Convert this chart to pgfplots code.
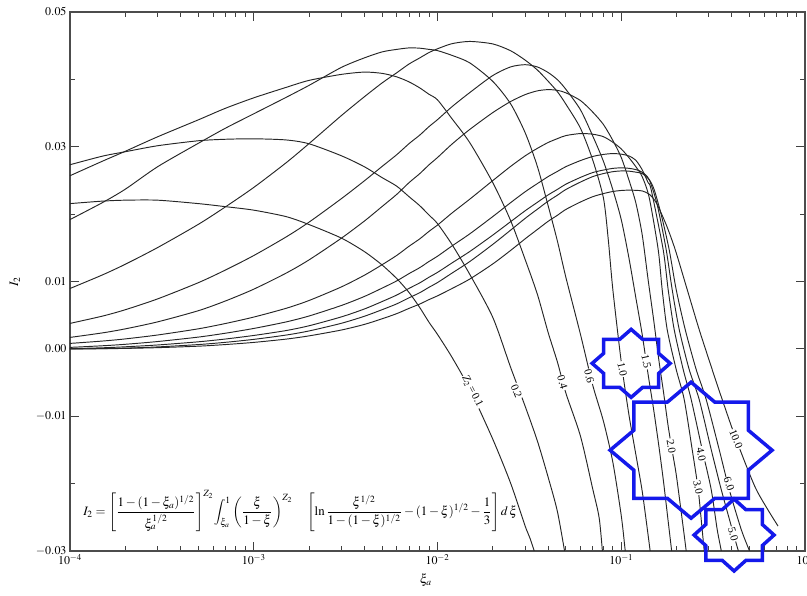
\documentclass[border=0pt]{standalone}
\usepackage{mathptmx}
\usepackage[no-math]{fontspec}
\setmainfont{Liberation Serif}
\usepackage{pgfplots}
\pgfplotsset{compat=1.18}
\definecolor{starblue}{RGB}{20,25,235}
\newcommand{\drawstar}[3]{\draw[starblue, line width=3.5pt, line join=miter, shift={(#1)}, x=#2, y=#3] (0:1) \foreach \a in {0,45,...,270} {-- (\a+22.5:0.7654) -- (\a+45:1)} -- (337.5:0.7654) -- cycle;}
\tikzset{clabel/.style={fill=white, inner sep=1pt, font=\fontsize{11}{12}\selectfont}}
\pgfplotsset{curve/.style={black!85, solid, line width=0.95pt, smooth, tension=0.45, mark=none}}
\begin{document}
\begin{tikzpicture}
\path[use as bounding box] (-70bp,-45bp) rectangle (737bp,551bp);
\begin{axis}[
  at={(0,0)}, anchor=south west,
  scale only axis, width=735bp, height=539bp,
  xmode=log, xmin=1e-4, xmax=1, ymin=-0.03, ymax=0.05,
  ytick={-0.03,-0.01,0,0.01,0.03,0.05},
  yticklabels={$-0.03$,$-0.01$,$0.00$,$0.01$,$0.03$,$0.05$},
  minor ytick={-0.02,0.02,0.04},
  scaled y ticks=false,
  tick label style={font=\fontsize{12}{14}\selectfont},
  major tick length=9bp, minor tick length=5bp,
  tick style={black!75, line width=0.9pt},
  axis line style={black!70, line width=1.1pt},
  ylabel={$I_2$},
  ylabel style={at={(axis description cs:-0.075,0.5)}, anchor=center, font=\fontsize{13}{14}\selectfont},
  xlabel={$\xi_a$},
  xlabel style={at={(axis description cs:0.484,-0.054)}, anchor=center, font=\fontsize{13}{14}\selectfont},
]
% Z2 = 0.1
\addplot[curve] coordinates {(1e-4,0.02156)(1.5e-4,0.02193)(2e-4,0.02207)(3e-4,0.02207)(5e-4,0.02156)(7e-4,0.02111)(1e-3,0.02059)(1.5e-3,0.01963)(2e-3,0.01845)(3e-3,0.01644)(4e-3,0.01444)(5e-3,0.01244)(6e-3,0.01044)(7e-3,0.00837)(8e-3,0.00615)(9e-3,0.00393)(1e-2,0.00215)(1.2e-2,-0.00126)(1.5e-2,-0.00600)(2e-2,-0.01341)(2.5e-2,-0.01993)(3e-2,-0.02630)(3.2e-2,-0.02822)(3.5e-2,-0.0315)};
% Z2 = 0.2
\addplot[curve] coordinates {(1e-4,0.02733)(1.5e-4,0.02860)(2e-4,0.02926)(3e-4,0.03015)(5e-4,0.03089)(7e-4,0.03111)(1e-3,0.03118)(1.5e-3,0.03101)(2e-3,0.03044)(3e-3,0.02866)(4e-3,0.02703)(5e-3,0.02541)(6e-3,0.02415)(7e-3,0.02259)(8e-3,0.02126)(9e-3,0.01985)(1e-2,0.01859)(1.2e-2,0.01548)(1.5e-2,0.01104)(2e-2,0.00467)(2.5e-2,-0.00274)(3e-2,-0.00852)(3.5e-2,-0.01370)(4e-2,-0.01904)(4.5e-2,-0.02422)(5e-2,-0.03119)};
% Z2 = 0.4
\addplot[curve] coordinates {(1e-4,0.02570)(1.5e-4,0.02785)(2e-4,0.02933)(3e-4,0.03148)(5e-4,0.03400)(7e-4,0.03570)(1e-3,0.03726)(1.5e-3,0.03881)(2e-3,0.03985)(3e-3,0.04074)(4e-3,0.04108)(5e-3,0.04089)(6e-3,0.04037)(7e-3,0.03963)(8e-3,0.03874)(9e-3,0.03778)(1e-2,0.03696)(1.2e-2,0.03415)(1.5e-2,0.03059)(2e-2,0.02467)(2.5e-2,0.01904)(3e-2,0.01326)(3.5e-2,0.00807)(4e-2,0.00244)(4.5e-2,-0.00200)(5e-2,-0.00659)(6e-2,-0.01296)(7e-2,-0.02082)(7.6e-2,-0.02526)(8e-2,-0.0319)};
% Z2 = 0.6
\addplot[curve] coordinates {(1e-4,0.01919)(1.5e-4,0.02170)(2e-4,0.02370)(3e-4,0.02704)(5e-4,0.03052)(7e-4,0.03274)(1e-3,0.03489)(1.5e-3,0.03733)(2e-3,0.03911)(3e-3,0.04178)(4e-3,0.04319)(5e-3,0.04408)(6e-3,0.04445)(7e-3,0.04467)(8e-3,0.04463)(9e-3,0.04445)(1e-2,0.04427)(1.2e-2,0.04356)(1.5e-2,0.04244)(2e-2,0.03970)(2.5e-2,0.03637)(3e-2,0.03208)(3.5e-2,0.02704)(4e-2,0.02126)(4.5e-2,0.01593)(5e-2,0.01059)(6e-2,0.00215)(7e-2,-0.00541)(8e-2,-0.01074)(9e-2,-0.01682)(0.1,-0.02474)(0.105,-0.02985)(0.11,-0.0350)};
% Z2 = 1.0
\addplot[curve] coordinates {(1e-4,0.00896)(1.5e-4,0.01097)(2e-4,0.01256)(3e-4,0.01504)(5e-4,0.01849)(7e-4,0.02106)(1e-3,0.02396)(1.5e-3,0.02762)(2e-3,0.03047)(3e-3,0.03463)(4e-3,0.03742)(5e-3,0.03948)(6e-3,0.04098)(7e-3,0.04228)(8e-3,0.04318)(9e-3,0.04399)(1e-2,0.04454)(1.2e-2,0.04530)(1.5e-2,0.04563)(2e-2,0.04526)(2.5e-2,0.04425)(3e-2,0.04286)(3.5e-2,0.04138)(4e-2,0.03973)(4.5e-2,0.03815)(5e-2,0.03631)(6e-2,0.03274)(7e-2,0.02802)(8e-2,0.02239)(8.5e-2,0.01622)(9e-2,0.00881)(0.1,-0.00193)(0.11,-0.00970)(0.12,-0.01563)(0.13,-0.02111)(0.14,-0.02763)(0.1455,-0.03119)};
% Z2 = 1.5
\addplot[curve] coordinates {(1e-4,0.00378)(1.5e-4,0.00486)(2e-4,0.00581)(3e-4,0.00742)(5e-4,0.00983)(7e-4,0.01169)(1e-3,0.01385)(1.5e-3,0.01661)(2e-3,0.01881)(3e-3,0.02230)(4e-3,0.02494)(5e-3,0.02709)(6e-3,0.02882)(7e-3,0.03046)(8e-3,0.03172)(9e-3,0.03300)(1e-2,0.03402)(1.2e-2,0.03595)(1.5e-2,0.03805)(2e-2,0.04057)(2.5e-2,0.04185)(3e-2,0.04218)(3.5e-2,0.04184)(4e-2,0.04102)(4.5e-2,0.03994)(5e-2,0.03851)(6e-2,0.03548)(7e-2,0.03159)(8e-2,0.02783)(9e-2,0.02362)(0.1,0.01919)(0.11,0.01356)(0.12,0.00763)(0.13,0.00215)(0.14,-0.00378)(0.15,-0.00896)(0.16,-0.01430)(0.17,-0.01978)(0.18,-0.02556)(0.1918,-0.03193)};
% Z2 = 2.0
\addplot[curve] coordinates {(1e-4,0.00170)(1.5e-4,0.00237)(2e-4,0.00297)(3e-4,0.00401)(5e-4,0.00567)(7e-4,0.00710)(1e-3,0.00886)(1.5e-3,0.01124)(2e-3,0.01321)(3e-3,0.01643)(4e-3,0.01897)(5e-3,0.02114)(6e-3,0.02293)(7e-3,0.02467)(8e-3,0.02600)(9e-3,0.02733)(1e-2,0.02840)(1.2e-2,0.03040)(1.5e-2,0.03258)(2e-2,0.03507)(2.5e-2,0.03671)(3e-2,0.03774)(3.5e-2,0.03830)(4e-2,0.03848)(4.5e-2,0.03837)(5e-2,0.03800)(6e-2,0.03686)(7e-2,0.03514)(8e-2,0.03330)(9e-2,0.03094)(0.1,0.02841)(0.11,0.02511)(0.12,0.02170)(0.13,0.01696)(0.14,0.01029)(0.15,0.00437)(0.16,-0.00155)(0.17,-0.00649)(0.18,-0.01146)(0.19,-0.01535)(0.2,-0.01899)(0.22,-0.02760)(0.2285,-0.03119)};
% Z2 = 3.0
\addplot[curve] coordinates {(1e-4,0.00081)(1.5e-4,0.00116)(2e-4,0.00148)(3e-4,0.00206)(5e-4,0.00298)(7e-4,0.00376)(1e-3,0.00472)(1.5e-3,0.00602)(2e-3,0.00718)(3e-3,0.00920)(4e-3,0.01093)(5e-3,0.01250)(6e-3,0.01387)(7e-3,0.01523)(8e-3,0.01632)(9e-3,0.01745)(1e-2,0.01837)(1.2e-2,0.02017)(1.5e-2,0.02223)(2e-2,0.02498)(2.5e-2,0.02708)(3e-2,0.02865)(3.5e-2,0.02977)(4e-2,0.03063)(4.5e-2,0.03121)(5e-2,0.03166)(6e-2,0.03196)(7e-2,0.03186)(8e-2,0.03149)(9e-2,0.03067)(0.1,0.02968)(0.11,0.02840)(0.12,0.02705)(0.13,0.02556)(0.142,0.02244)(0.1589,0.01474)(0.167,0.00881)(0.1778,0.00289)(0.1991,-0.00304)(0.22,-0.00748)(0.2431,-0.01489)(0.2621,-0.02081)(0.2755,-0.02674)(0.2825,-0.02985)(0.286,-0.03148)};
% Z2 = 4.0
\addplot[curve] coordinates {(1e-4,0.00022)(1.5e-4,0.00046)(2e-4,0.00068)(3e-4,0.00109)(5e-4,0.00175)(7e-4,0.00232)(1e-3,0.00303)(1.5e-3,0.00400)(2e-3,0.00488)(3e-3,0.00644)(4e-3,0.00778)(5e-3,0.00902)(6e-3,0.01009)(7e-3,0.01117)(8e-3,0.01205)(9e-3,0.01298)(1e-2,0.01375)(1.2e-2,0.01528)(1.5e-2,0.01708)(2e-2,0.01964)(2.5e-2,0.02170)(3e-2,0.02332)(3.5e-2,0.02454)(4e-2,0.02557)(4.5e-2,0.02635)(5e-2,0.02705)(6e-2,0.02795)(7e-2,0.02856)(8e-2,0.02886)(9e-2,0.02899)(0.1,0.02890)(0.11,0.02864)(0.12,0.02800)(0.13,0.02659)(0.14,0.02467)(0.1455,0.02363)(0.1691,0.01474)(0.18,0.00881)(0.1941,0.00289)(0.2173,-0.00304)(0.2401,-0.00748)(0.2755,-0.01489)(0.3084,-0.02081)(0.3325,-0.02674)(0.3496,-0.02985)(0.3583,-0.03148)};
% Z2 = 5.0
\addplot[curve] coordinates {(1e-4,0.00003)(1.5e-4,0.00016)(2e-4,0.00031)(3e-4,0.00058)(5e-4,0.00105)(7e-4,0.00146)(1e-3,0.00199)(1.5e-3,0.00272)(2e-3,0.00343)(3e-3,0.00475)(4e-3,0.00592)(5e-3,0.00703)(6e-3,0.00799)(7e-3,0.00898)(8e-3,0.00979)(9e-3,0.01064)(1e-2,0.01135)(1.2e-2,0.01276)(1.5e-2,0.01446)(2e-2,0.01689)(2.5e-2,0.01888)(3e-2,0.02050)(3.5e-2,0.02176)(4e-2,0.02285)(4.5e-2,0.02368)(5e-2,0.02445)(6e-2,0.02545)(7e-2,0.02617)(8e-2,0.02654)(9e-2,0.02679)(0.1,0.02687)(0.11,0.02680)(0.12,0.02661)(0.13,0.02622)(0.142,0.02511)(0.1569,0.02141)(0.1756,0.01474)(0.1893,0.00881)(0.2067,0.00289)(0.2342,-0.00304)(0.2654,-0.00748)(0.3084,-0.01489)(0.3496,-0.02081)(0.4012,-0.02674)(0.4324,-0.02985)(0.4489,-0.03148)};
% Z2 = 6.0
\addplot[curve] coordinates {(1e-4,0.0)(1.5e-4,0.00004)(2e-4,0.00011)(3e-4,0.00029)(5e-4,0.00064)(7e-4,0.00097)(1e-3,0.00141)(1.5e-3,0.00205)(2e-3,0.00266)(3e-3,0.00380)(4e-3,0.00484)(5e-3,0.00582)(6e-3,0.00668)(7e-3,0.00758)(8e-3,0.00833)(9e-3,0.00915)(1e-2,0.00984)(1.2e-2,0.01125)(1.5e-2,0.01297)(2e-2,0.01551)(2.5e-2,0.01762)(3e-2,0.01937)(3.5e-2,0.02074)(4e-2,0.02192)(4.5e-2,0.02282)(5e-2,0.02366)(6e-2,0.02476)(7e-2,0.02557)(8e-2,0.02602)(9e-2,0.02630)(0.1,0.02641)(0.11,0.02638)(0.12,0.02623)(0.13,0.02602)(0.142,0.02511)(0.1511,0.02363)(0.165,0.01993)(0.1823,0.01474)(0.1991,0.00881)(0.2228,0.00289)(0.2556,-0.00304)(0.2897,-0.00748)(0.3409,-0.01489)(0.3864,-0.02081)(0.4489,-0.02674)(0.4964,-0.02985)(0.5217,-0.03148)};
% Z2 = 10.0
\addplot[curve] coordinates {(1e-4,0.0)(1.5e-4,0.00002)(2e-4,0.00007)(3e-4,0.00018)(5e-4,0.00040)(7e-4,0.00064)(1e-3,0.00096)(1.5e-3,0.00145)(2e-3,0.00193)(3e-3,0.00280)(4e-3,0.00363)(5e-3,0.00447)(6e-3,0.00523)(7e-3,0.00601)(8e-3,0.00665)(9e-3,0.00732)(1e-2,0.00787)(1.2e-2,0.00896)(1.5e-2,0.01037)(2e-2,0.01261)(2.5e-2,0.01461)(3e-2,0.01634)(3.5e-2,0.01773)(4e-2,0.01893)(4.5e-2,0.01984)(5e-2,0.02070)(6e-2,0.02180)(7e-2,0.02259)(8e-2,0.02305)(9e-2,0.02336)(0.1,0.02351)(0.11,0.02356)(0.12,0.02353)(0.13,0.02344)(0.142,0.02296)(0.155,0.02170)(0.1756,0.01844)(0.1966,0.01474)(0.2285,0.00881)(0.2654,0.00289)(0.3123,-0.00304)(0.354,-0.00748)(0.4217,-0.01341)(0.5417,-0.02081)(0.7135,-0.02630)};
% curve labels
\node[clabel, rotate=-63] at (axis cs:0.0155,-0.0063) {$Z_2$\,=\,0.1};
\node[clabel, rotate=-68] at (axis cs:0.0269,-0.0063) {0.2};
\node[clabel, rotate=-74] at (axis cs:0.0478,-0.0050) {0.4};
\node[clabel, rotate=-75] at (axis cs:0.0670,-0.0041) {0.6};
\node[clabel, rotate=-78] at (axis cs:0.1013,-0.0030) {1.0};
\node[clabel, rotate=-78] at (axis cs:0.1368,-0.0019) {1.5};
\node[clabel, rotate=-80] at (axis cs:0.1871,-0.01444) {2.0};
\node[clabel, rotate=-78] at (axis cs:0.2618,-0.02052) {3.0};
\node[clabel, rotate=-78] at (axis cs:0.2723,-0.01563) {4.0};
\node[clabel, rotate=-75] at (axis cs:0.4064,-0.02748) {5.0};
\node[clabel, rotate=-70] at (axis cs:0.3864,-0.02007) {6.0};
\node[clabel, rotate=-68] at (axis cs:0.4217,-0.01341) {10.0};
% formula
\node[anchor=west, inner sep=0pt] at (axis cs:1.18e-4,-0.02407) {\resizebox{434bp}{!}{$\displaystyle I_2=\left[\frac{1-(1-\xi_a)^{1/2}}{\xi_a^{1/2}}\right]^{Z_2}\!\int_{\xi_a}^{1}\left(\frac{\xi}{1-\xi}\right)^{Z_2}\quad\left[\ln\frac{\xi^{1/2}}{1-(1-\xi)^{1/2}}-(1-\xi)^{1/2}-\frac{1}{3}\right]d\,\xi$}};
\coordinate (s1) at (axis cs:0.1132,-0.00215);
\coordinate (s2) at (axis cs:0.2399,-0.01504);
\coordinate (s3) at (axis cs:0.4111,-0.02763);
\end{axis}
\drawstar{s1}{39bp}{34bp}
\drawstar{s2}{81bp}{68bp}
\drawstar{s3}{40bp}{36bp}
\end{tikzpicture}
\end{document}
